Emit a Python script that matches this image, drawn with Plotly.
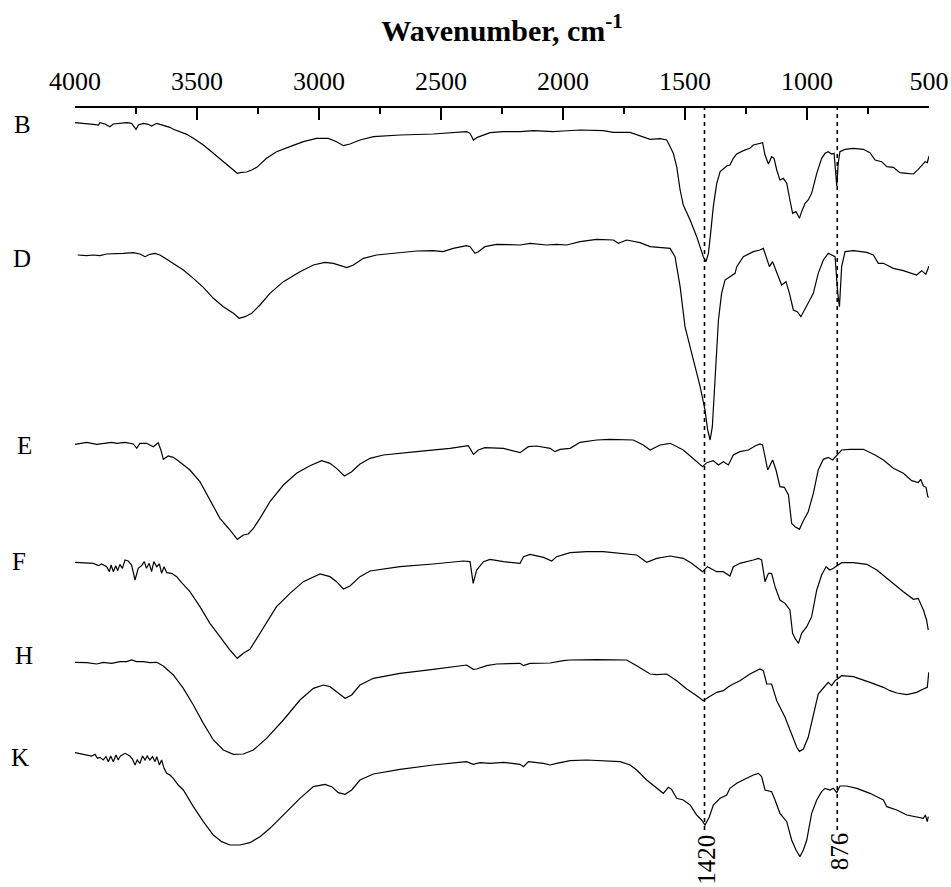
import plotly.graph_objects as go

# ---------------- data (wavenumber in cm-1, transmittance in arbitrary units) ----------------
series_names = ["B", "D", "E", "F", "H", "K"]
offsets = [2293, 1896, 1328, 974, 674, 403]

B_wn = [4000,3952,3925,3904,3898,3877,3857,3843,3816,3788,3768,3750,3740,3720,3700,3686,3665,3652,3638,3624,
        3611,3597,3570,3542,3515,3474,3433,3392,3351,3335,3317,3297,3276,3255,3215,3174,3119,3064,3010,2962,
        2928,2900,2873,2832,2777,2668,2532,2395,2381,2367,2351,2326,2299,2244,2176,2121,2040,1999,1930,1835,
        1794,1725,1671,1643,1602,1575,1561,1548,1534,1520,1507,1479,1452,1425,1414,1404,1395,1384,1370,1356,
        1329,1316,1302,1288,1261,1234,1220,1193,1182,1172,1158,1145,1135,1124,1111,1097,1083,1070,1059,1045,
        1031,1022,1008,995,981,960,940,926,913,899,889,878,872,865,844,810,769,742,721,694,
        673,646,619,591,564,544,530,516,507,500]
B_t = [0,-2,-5,-7,0,-4,-12,-4,-2,0,-2,-20,-7,-2,-5,-10,-2,-5,-7,-12,
       -14,-20,-27,-35,-47,-67,-92,-117,-142,-152,-149,-148,-142,-134,-107,-87,-72,-57,-47,-47,
       -57,-69,-64,-52,-42,-37,-34,-27,-32,-52,-44,-37,-30,-27,-27,-24,-27,-25,-22,-24,
       -29,-29,-42,-50,-48,-52,-72,-92,-132,-202,-247,-292,-342,-402,-417,-392,-332,-252,-182,-147,
       -130,-127,-107,-94,-84,-77,-67,-62,-60,-97,-124,-102,-107,-142,-172,-167,-182,-232,-272,-267,
       -287,-267,-242,-232,-212,-152,-107,-92,-87,-94,-92,-190,-122,-87,-80,-77,-80,-90,-112,-117,
       -132,-134,-150,-152,-154,-140,-127,-117,-120,-100]

D_wn = [3989,3952,3925,3898,3870,3836,3802,3761,3734,3713,3693,3672,3652,3624,3597,3556,3515,3474,3433,3392,
        3351,3327,3303,3276,3242,3201,3146,3078,3023,2976,2941,2907,2886,2859,2818,2764,2668,2600,2532,2491,
        2450,2395,2381,2361,2347,2320,2272,2176,2135,2067,2026,1985,1930,1862,1794,1773,1739,1684,1643,1561,
        1541,1520,1500,1479,1438,1418,1407,1397,1388,1377,1363,1350,1336,1316,1295,1288,1261,1220,1193,1179,
        1165,1154,1141,1124,1104,1086,1072,1056,1040,1025,1011,995,974,954,933,913,895,885,874,867,
        858,844,810,755,728,708,687,646,605,578,551,530,513,500]
D_t = [0,-2,0,-2,3,5,5,7,3,-5,2,5,0,-13,-25,-45,-70,-97,-130,-155,
       -175,-190,-185,-175,-150,-115,-80,-50,-30,-22,-25,-33,-38,-30,-10,0,7,12,13,10,
       20,28,25,5,10,25,32,30,35,30,32,30,40,47,45,35,45,37,25,20,
       -5,-95,-215,-275,-395,-465,-525,-555,-515,-375,-195,-115,-75,-65,-55,-35,-5,10,15,20,
       -15,-35,-20,-53,-90,-80,-115,-165,-170,-185,-165,-145,-115,-55,-15,5,0,-5,-115,-155,
       -35,10,13,8,0,-25,-25,-40,-47,-53,-60,-47,-58,-33]

E_wn = [4000,3952,3911,3870,3850,3829,3795,3761,3747,3734,3707,3679,3659,3648,3638,3618,3597,3577,3563,3529,
        3488,3447,3406,3365,3335,3310,3290,3269,3242,3201,3146,3092,3037,2989,2955,2928,2896,2866,2832,2791,
        2736,2600,2463,2388,2367,2347,2320,2244,2197,2176,2142,2108,2053,2033,2012,1971,1930,1862,1807,1712,
        1671,1643,1602,1561,1507,1466,1428,1411,1384,1363,1343,1322,1302,1275,1240,1213,1193,1182,1172,1161,
        1141,1127,1111,1093,1076,1063,1049,1031,1015,995,974,954,933,913,895,878,858,824,769,721,
        687,646,605,571,544,534,523,512,505,500]
E_t = [0,6,0,3,6,3,6,1,-12,3,3,-7,5,-17,-45,-35,-39,-49,-57,-77,
       -112,-167,-222,-257,-285,-272,-269,-252,-222,-172,-122,-87,-64,-49,-57,-72,-95,-82,-59,-42,
       -32,-22,-12,-4,-30,-17,-10,-12,-22,-25,-7,-5,-12,-22,-15,-12,6,13,15,13,
       -2,-17,-2,3,-17,-42,-67,-55,-49,-62,-52,-62,-32,-22,-17,-5,1,-2,-42,-77,
       -47,-77,-127,-129,-152,-237,-247,-255,-229,-202,-147,-77,-45,-39,-47,-32,-17,-15,-15,-32,
       -47,-72,-87,-109,-115,-105,-125,-129,-157,-159]

F_wn = [4000,3959,3925,3904,3891,3870,3859,3852,3843,3833,3825,3816,3806,3795,3782,3768,3754,3741,3727,3716,
        3707,3696,3686,3677,3665,3654,3645,3635,3624,3604,3583,3563,3529,3488,3447,3406,3365,3335,3310,3283,
        3255,3215,3174,3119,3064,2996,2955,2928,2900,2873,2832,2791,2668,2532,2409,2381,2368,2354,2326,2299,
        2244,2176,2162,2135,2080,2046,2026,1971,1903,1835,1753,1698,1657,1616,1561,1507,1473,1428,1408,1370,
        1343,1316,1302,1275,1220,1199,1186,1172,1158,1145,1131,1111,1090,1070,1059,1049,1035,1022,1001,981,
        960,940,922,906,892,878,858,810,755,714,673,639,605,564,544,523,510,503]
F_t = [0,-1,-3,-10,-5,-13,-28,-8,-28,-10,-25,-6,-18,7,4,-8,-53,-18,-10,2,
       -18,-3,-28,2,-13,-5,-33,-13,-31,-33,-43,-61,-88,-133,-183,-223,-263,-288,-273,-261,
       -228,-178,-133,-93,-58,-35,-43,-58,-80,-71,-43,-26,-13,-5,4,2,-63,-23,2,9,
       2,-3,17,24,15,4,17,29,32,32,27,22,0,12,19,12,-3,-28,-13,-28,
       -28,-41,-13,-3,7,12,7,-58,-33,-33,-73,-113,-123,-143,-213,-228,-243,-213,-193,-163,
       -83,-38,-13,-23,-18,-11,-1,-1,-6,-23,-48,-68,-88,-111,-108,-143,-173,-203]

H_wn = [4000,3952,3911,3884,3850,3816,3788,3768,3747,3720,3693,3665,3638,3597,3556,3515,3474,3433,3392,3351,
        3310,3269,3215,3146,3078,3023,2982,2955,2928,2893,2866,2832,2777,2668,2532,2395,2368,2354,2313,2272,
        2176,2162,2135,2053,1999,1971,1862,1739,1698,1643,1616,1575,1534,1493,1452,1425,1404,1370,1343,1322,
        1302,1275,1234,1193,1179,1165,1145,1124,1090,1063,1042,1031,1015,995,974,954,933,913,899,885,
        858,810,742,687,660,632,591,551,523,507,501]
H_t = [0,-1,-5,0,-3,2,2,7,2,2,-1,0,-11,-38,-78,-128,-183,-233,-263,-276,
       -275,-263,-228,-173,-113,-78,-68,-73,-88,-108,-98,-68,-48,-33,-21,-8,-21,-20,-10,-5,
       -3,-10,-3,-2,5,7,8,7,-10,-35,-37,-35,-55,-80,-100,-115,-105,-90,-85,-73,
       -65,-55,-35,-20,-25,-65,-65,-115,-165,-215,-255,-267,-260,-225,-155,-95,-77,-60,-70,-55,
       -40,-43,-60,-75,-85,-92,-97,-90,-80,-75,-30]

K_wn = [4000,3966,3932,3918,3908,3898,3884,3873,3863,3854,3843,3832,3823,3814,3795,3775,3764,3754,3745,3734,
        3723,3713,3704,3693,3682,3672,3665,3654,3645,3635,3624,3611,3597,3577,3556,3515,3474,3433,3399,3365,
        3324,3283,3242,3201,3146,3078,3023,2976,2948,2921,2893,2866,2832,2777,2668,2532,2395,2368,2340,2299,
        2244,2176,2162,2142,2080,2053,2026,1999,1971,1903,1835,1766,1725,1698,1657,1630,1602,1589,1568,1555,
        1534,1507,1479,1452,1432,1418,1400,1384,1356,1329,1316,1288,1247,1220,1199,1186,1172,1145,1131,1111,
        1083,1063,1045,1029,1015,1001,981,960,940,926,906,892,878,865,837,796,742,687,673,632,
        591,551,523,515,507,503]
K_t = [0,-5,-10,-5,-17,-14,-22,-12,-27,-10,-27,-7,-22,-10,-2,-10,-20,-37,-22,-32,
       -10,-22,-10,-22,-12,-27,-12,-37,-22,-47,-62,-67,-77,-97,-112,-162,-207,-247,-267,-277,
       -277,-270,-252,-227,-187,-137,-102,-95,-102,-120,-125,-112,-82,-64,-50,-37,-27,-35,-30,-32,
       -29,-35,-42,-27,-32,-37,-32,-27,-24,-22,-24,-27,-37,-52,-82,-97,-112,-122,-104,-110,
       -137,-142,-157,-187,-202,-217,-192,-157,-137,-127,-107,-92,-77,-67,-62,-72,-112,-117,-142,-182,
       -207,-262,-292,-312,-292,-262,-182,-142,-117,-107,-112,-107,-120,-100,-100,-107,-122,-142,-162,-172,
       -187,-192,-197,-187,-207,-192]

marker_bands = [1420, 876]
marker_labels = ["1420", "876"]
x_ticks = [4000, 3500, 3000, 2500, 2000, 1500, 1000, 500]

spectra = {"B": (B_wn, B_t), "D": (D_wn, D_t), "E": (E_wn, E_t),
           "F": (F_wn, F_t), "H": (H_wn, H_t), "K": (K_wn, K_t)}

# ---------------- figure ----------------
FONT = "Liberation Serif, Times New Roman, serif"
Y_TOP = 2337
Y_LINE_END = 171
label_y = [2287, 1886, 1325, 978, 694, 390]
label_xshift = [0, 0, 2, -3, 2, -2]
marker_label_y = [80, 108]

fig = go.Figure()
for name, off in zip(series_names, offsets):
    wn, t = spectra[name]
    assert len(wn) == len(t), name
    fig.add_trace(go.Scatter(x=wn, y=[off + v for v in t], mode="lines",
                             line=dict(color="black", width=1.2), name=name,
                             showlegend=False, hoverinfo="skip"))

for name, ly, dx in zip(series_names, label_y, label_xshift):
    fig.add_annotation(x=-0.062, xref="paper", y=ly, yref="y", text=name, showarrow=False,
                       xanchor="center", yanchor="middle", xshift=dx,
                       font=dict(family=FONT, size=25, color="black"))

for band, lab, ly in zip(marker_bands, marker_labels, marker_label_y):
    fig.add_shape(type="line", x0=band, x1=band, xref="x", y0=Y_LINE_END, y1=Y_TOP, yref="y",
                  line=dict(color="black", width=1.6, dash="4px,4px"))
    fig.add_annotation(x=band, xref="x", y=ly, yref="y", text=lab, showarrow=False,
                       textangle=-90, xanchor="center", yanchor="middle", xshift=2,
                       font=dict(family=FONT, size=25, color="black"))

fig.update_layout(
    width=951, height=887,
    margin=dict(l=75, r=22, t=108, b=0, pad=0),
    paper_bgcolor="white", plot_bgcolor="white",
    font=dict(family=FONT, color="black"),
    xaxis=dict(
        range=[4000, 500], side="top", showline=True, linecolor="black", linewidth=2,
        ticks="inside", ticklen=12, tickwidth=2, tickcolor="black",
        tickvals=x_ticks, ticktext=[str(v) for v in x_ticks],
        tickfont=dict(family=FONT, size=26, color="black"), ticklabelstandoff=6,
        minor=dict(dtick=250, ticks="inside", ticklen=6, tickwidth=2, tickcolor="black", showgrid=False),
        showgrid=False, zeroline=False, mirror=False,
        title=dict(text="<b>Wavenumber, cm<sup>-1</sup></b>",
                   font=dict(family=FONT, size=30, color="black"), standoff=16),
    ),
    yaxis=dict(range=[0, Y_TOP], visible=False, showgrid=False, zeroline=False),
)

fig.write_html("out.html")
